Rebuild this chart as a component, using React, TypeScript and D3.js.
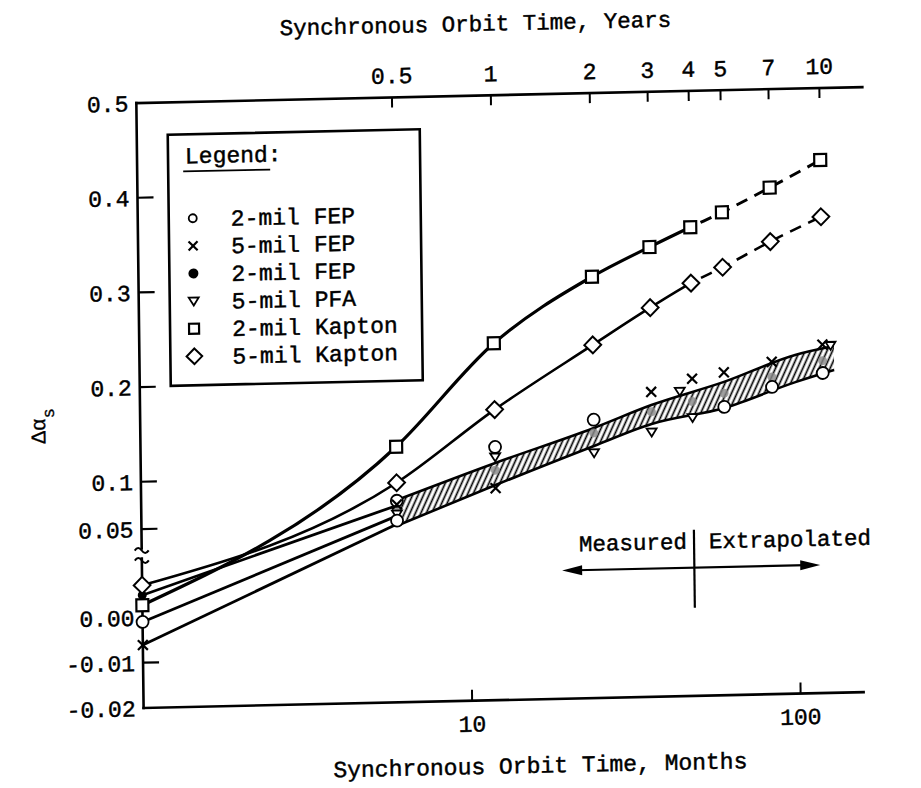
import React from 'react';
import * as d3 from 'd3';

const W = 921;
const H = 788;
const FONT = "'Liberation Mono', 'Courier New', monospace";

// ---------- axis ticks ----------
const monthTicks = [10, 100];
const monthTickLabels = ['10', '100'];
const yearTicks = [0.5, 1, 2, 3, 4, 5, 7, 10];
const yearTickLabels = ['0.5', '1', '2', '3', '4', '5', '7', '10'];
const yLabelValues = [0.5, 0.4, 0.3, 0.2, 0.1, 0.05, 0.0, -0.01, -0.02];
const yLabelTexts = ['0.5', '0.4', '0.3', '0.2', '0.1', '0.05', '0.00', '-0.01', '-0.02'];
const yTickMarks = [0.4, 0.3, 0.2, 0.1, 0.05, -0.01];

// ---------- Kapton series ----------
const kaptonMonths = [1, 6, 12, 24, 36, 48, 60, 84, 120];
const kapton2milValues = [0.0027, 0.131, 0.238, 0.306, 0.336, 0.356, 0.371, 0.396, 0.424];
const kapton5milValues = [0.0071, 0.093, 0.168, 0.234, 0.272, 0.297, 0.313, 0.339, 0.364];
const measuredUntilMonth = 48;

// ---------- FEP / PFA lines (1 to 6 months) ----------
const fepLineMonths = [1, 6];
const fep2milFilledLine = [0.0049, 0.069];
const fep2milOpenLine = [-0.001, 0.058];
const fep5milLine = [-0.0061, 0.049];

// ---------- hatched band ----------
const bandMonths = [6, 12, 24, 36, 60, 99, 130];
const bandUpper = [0.0747, 0.1116, 0.1463, 0.1692, 0.1919, 0.2187, 0.2272];
const bandLower = [0.0462, 0.0883, 0.1273, 0.1491, 0.1644, 0.19, 0.2019];

// ---------- scattered markers ----------
const fep2milOpenMonths = [1, 6, 6, 12, 24, 60, 84, 120];
const fep2milOpenValues = [-0.001, 0.074, 0.053, 0.1285, 0.155, 0.1655, 0.1855, 0.199];
const fep5milMonths = [1, 6, 12, 36, 48, 60, 84, 120];
const fep5milValues = [-0.0061, 0.07, 0.085, 0.183, 0.196, 0.202, 0.212, 0.229];
const fep2milFilledMonths = [1, 6, 12, 24, 36, 48, 60, 84, 120];
const fep2milFilledValues = [0.0049, 0.064, 0.104, 0.141, 0.162, 0.172, 0.18, 0.196, 0.212];
const pfa5milMonths = [6, 12, 24, 36, 44, 48, 127];
const pfa5milValues = [0.06, 0.118, 0.12, 0.1406, 0.183, 0.155, 0.228];

// ---------- legend ----------
const legendLabels = ['2-mil FEP', '5-mil FEP', '2-mil FEP', '5-mil PFA', '2-mil Kapton', '5-mil Kapton'];
const legendMarkers = ['circle', 'x', 'dot', 'tri', 'square', 'diamond'];

// annotation
const arrowFromMonth = 19;
const arrowToMonth = 116;
const arrowValue = 0.0083;

type MarkerType = 'circle' | 'x' | 'dot' | 'tri' | 'square' | 'diamond' | 'greydot';

function Marker({ type, cx, cy, s }: { type: MarkerType; cx: number; cy: number; s: number }) {
  switch (type) {
    case 'circle':
      return <circle cx={cx} cy={cy} r={s * 0.5} fill="#fff" stroke="#000" strokeWidth={1.8} />;
    case 'dot':
      return <circle cx={cx} cy={cy} r={s * 0.5} fill="#000" />;
    case 'greydot':
      return <circle cx={cx} cy={cy} r={s * 0.5} fill="#888" opacity={0.8} />;
    case 'x': {
      const h = s * 0.45;
      return (
        <g stroke="#000" strokeWidth={2.2}>
          <line x1={cx - h} y1={cy - h} x2={cx + h} y2={cy + h} />
          <line x1={cx - h} y1={cy + h} x2={cx + h} y2={cy - h} />
        </g>
      );
    }
    case 'tri': {
      const h = s * 0.5;
      return (
        <path
          d={`M${cx - h},${cy - h * 0.7} L${cx + h},${cy - h * 0.7} L${cx},${cy + h * 0.9} Z`}
          fill="#fff"
          stroke="#000"
          strokeWidth={1.8}
        />
      );
    }
    case 'square': {
      const h = s * 0.5;
      return <rect x={cx - h} y={cy - h} width={s} height={s} fill="#fff" stroke="#000" strokeWidth={2.2} />;
    }
    case 'diamond': {
      const h = s * 0.6;
      return (
        <path
          d={`M${cx},${cy - h} L${cx + h},${cy} L${cx},${cy + h} L${cx - h},${cy} Z`}
          fill="#fff"
          stroke="#000"
          strokeWidth={2}
        />
      );
    }
  }
  return null;
}

export default function App() {
  const x = d3.scaleLog().domain([1, 100]).range([140, 797]);
  const y = d3
    .scaleLinear()
    .domain([-0.02, 0.015, 0.05, 0.5])
    .range([700.5, 542, 521.6, 95.6]);

  const xLeft = x(1);
  const yTop = y(0.5);
  const yBottom = y(-0.02);
  const xRightTop = 866;
  const xRightBottom = 860;
  const breakTop = 541;
  const breakBottom = 551;

  const line = d3
    .line<[number, number]>()
    .x((d) => x(d[0]))
    .y((d) => y(d[1]))
    .curve(d3.curveMonotoneX);
  const straight = d3
    .line<[number, number]>()
    .x((d) => x(d[0]))
    .y((d) => y(d[1]));

  const k2 = line(kaptonMonths.map((m, i) => [m, kapton2milValues[i]] as [number, number])) || '';
  const k5 = line(kaptonMonths.map((m, i) => [m, kapton5milValues[i]] as [number, number])) || '';

  const fepLines = [fep2milFilledLine, fep2milOpenLine, fep5milLine].map(
    (vals) => straight(fepLineMonths.map((m, i) => [m, vals[i]] as [number, number])) || ''
  );

  const area = d3
    .area<number>()
    .x((_, i) => x(bandMonths[i]))
    .y0((_, i) => y(bandLower[i]))
    .y1((_, i) => y(bandUpper[i]))
    .curve(d3.curveMonotoneX);
  const bandPath = area(bandMonths) || '';
  const bandUpperPath = line(bandMonths.map((m, i) => [m, bandUpper[i]] as [number, number])) || '';
  const bandLowerPath = line(bandMonths.map((m, i) => [m, bandLower[i]] as [number, number])) || '';

  const xDiv = x(measuredUntilMonth);
  const arrowY = y(arrowValue);
  const ax0 = x(arrowFromMonth);
  const ax1 = x(arrowToMonth);

  const legendX0 = 171;
  const legendY0 = 128;
  const legendX1 = 423;
  const legendY1 = 379;
  const rowY0 = 212;
  const rowStep = 27.6;

  const tilde = (cx: number, cy: number) =>
    `M${cx - 7},${cy + 1} q3.5,-5 7,0 t7,0`;

  const txt = { fill: '#000', stroke: '#000', strokeWidth: 0.45 };

  return (
    <svg
      width={W}
      height={H}
      viewBox={`0 0 ${W} ${H}`}
      style={{ position: 'absolute', left: 0, top: 0, background: '#fff' }}
      fontFamily={FONT}
    >
      <defs>
        <pattern
          id="hatch"
          patternUnits="userSpaceOnUse"
          width={5}
          height={10}
          patternTransform="rotate(25)"
        >
          <rect width={5} height={10} fill="#fff" />
          <line x1={1.5} y1={0} x2={1.5} y2={10} stroke="#000" strokeWidth={1.7} />
        </pattern>
        <clipPath id="clipMeasured">
          <rect x={0} y={0} width={xDiv} height={H} />
        </clipPath>
        <clipPath id="clipExtrap">
          <rect x={xDiv} y={0} width={W} height={H} />
        </clipPath>
      </defs>
      <rect width={W} height={H} fill="#fff" />
      <g transform="translate(480,400) matrix(1,-0.022,0.012,1,0,0) translate(-480,-400)">
        {/* titles */}
        <text x={480} y={31} fontSize={22.5} textAnchor="middle" {...txt}>
          Synchronous Orbit Time, Years
        </text>
        <text x={536} y={774} fontSize={23} textAnchor="middle" {...txt}>
          Synchronous Orbit Time, Months
        </text>

        {/* y label */}
        <text transform={`translate(45,${y(0.1) - 58}) rotate(-90)`} fontSize={21} textAnchor="middle" {...txt} strokeWidth={0.3}>
          Δα
          <tspan fontSize={17} dy={9}>
            s
          </tspan>
        </text>

        {/* axes */}
        <g stroke="#000" strokeWidth={2.6} fill="none" strokeLinecap="square">
          <line x1={xLeft} y1={yTop} x2={xRightTop} y2={yTop} />
          <line x1={xLeft} y1={yBottom} x2={xRightBottom} y2={yBottom} />
          <line x1={xLeft} y1={yTop} x2={xLeft} y2={breakTop} />
          <line x1={xLeft} y1={breakBottom} x2={xLeft} y2={yBottom} />
        </g>
        <g stroke="#000" strokeWidth={2} fill="none">
          <path d={tilde(xLeft, breakTop + 1)} />
          <path d={tilde(xLeft, breakBottom + 1)} />
        </g>

        {/* top ticks */}
        {yearTicks.map((yr, i) => (
          <g key={'yt' + i}>
            <line x1={x(yr * 12)} y1={yTop} x2={x(yr * 12)} y2={yTop + 10} stroke="#000" strokeWidth={2} />
            <text x={x(yr * 12)} y={yTop - 14} fontSize={23} textAnchor="middle" {...txt}>
              {yearTickLabels[i]}
            </text>
          </g>
        ))}

        {/* bottom ticks */}
        {monthTicks.map((m, i) => (
          <g key={'mt' + i}>
            <line x1={x(m)} y1={yBottom} x2={x(m)} y2={yBottom - 11} stroke="#000" strokeWidth={2} />
            <text x={x(m)} y={yBottom + 31} fontSize={23} textAnchor="middle" {...txt}>
              {monthTickLabels[i]}
            </text>
          </g>
        ))}

        {/* left ticks */}
        {yTickMarks.map((v, i) => (
          <line key={'ytm' + i} x1={xLeft} y1={y(v)} x2={xLeft + 16} y2={y(v)} stroke="#000" strokeWidth={2.2} />
        ))}
        {yLabelValues.map((v, i) => (
          <text key={'yl' + i} x={xLeft - 8} y={y(v)} dy="0.36em" fontSize={23} textAnchor="end" {...txt}>
            {yLabelTexts[i]}
          </text>
        ))}

        {/* legend */}
        <rect
          x={legendX0}
          y={legendY0}
          width={legendX1 - legendX0}
          height={legendY1 - legendY0}
          fill="#fff"
          stroke="#000"
          strokeWidth={2.6}
        />
        <text x={188} y={157} fontSize={23} {...txt}>
          Legend:
        </text>
        <line x1={186} y1={165} x2={273} y2={165} stroke="#000" strokeWidth={1.8} />
        {legendLabels.map((lab, i) => {
          const ry = rowY0 + i * rowStep;
          const t = legendMarkers[i] as MarkerType;
          const s = t === 'circle' ? 8 : t === 'dot' ? 10 : t === 'diamond' ? 13 : 10;
          return (
            <g key={'lg' + i}>
              <Marker type={t} cx={195} cy={ry} s={s} />
              <text x={233} y={ry} dy="0.36em" fontSize={23} {...txt}>
                {lab}
              </text>
            </g>
          );
        })}

        {/* hatched band */}
        <path d={bandPath} fill="url(#hatch)" stroke="none" />
        <path d={bandUpperPath} fill="none" stroke="#000" strokeWidth={2.6} />
        <path d={bandLowerPath} fill="none" stroke="#000" strokeWidth={2.6} />

        {/* FEP lines */}
        {fepLines.map((d, i) => (
          <path key={'fl' + i} d={d} fill="none" stroke="#000" strokeWidth={2.8} />
        ))}

        {/* Kapton curves */}
        <path d={k2} fill="none" stroke="#000" strokeWidth={3.2} clipPath="url(#clipMeasured)" />
        <path d={k2} fill="none" stroke="#000" strokeWidth={3} strokeDasharray="12 8" clipPath="url(#clipExtrap)" />
        <path d={k5} fill="none" stroke="#000" strokeWidth={2.6} clipPath="url(#clipMeasured)" />
        <path d={k5} fill="none" stroke="#000" strokeWidth={2.6} strokeDasharray="12 8" clipPath="url(#clipExtrap)" />

        {/* markers */}
        {fep2milFilledMonths.map((m, i) => (
          <Marker key={'fd' + i} type={i === 0 ? 'dot' : 'greydot'} cx={x(m)} cy={y(fep2milFilledValues[i])} s={9} />
        ))}
        {pfa5milMonths.map((m, i) => (
          <Marker key={'pt' + i} type="tri" cx={x(m)} cy={y(pfa5milValues[i])} s={10} />
        ))}
        {fep2milOpenMonths.map((m, i) => (
          <Marker key={'fo' + i} type="circle" cx={x(m)} cy={y(fep2milOpenValues[i])} s={12} />
        ))}
        {fep5milMonths.map((m, i) => (
          <Marker key={'fx' + i} type="x" cx={x(m)} cy={y(fep5milValues[i])} s={11} />
        ))}
        {kaptonMonths.map((m, i) => (
          <Marker key={'k5' + i} type="diamond" cx={x(m)} cy={y(kapton5milValues[i])} s={14} />
        ))}
        {kaptonMonths.map((m, i) => (
          <Marker key={'k2' + i} type="square" cx={x(m)} cy={y(kapton2milValues[i])} s={12} />
        ))}

        {/* measured / extrapolated */}
        <line x1={xDiv} y1={arrowY - 38} x2={xDiv} y2={arrowY + 40} stroke="#000" strokeWidth={2.2} />
        <line x1={ax0 + 14} y1={arrowY} x2={ax1 - 14} y2={arrowY} stroke="#000" strokeWidth={2.2} />
        <path d={`M${ax0},${arrowY} L${ax0 + 20},${arrowY - 5} L${ax0 + 20},${arrowY + 5} Z`} fill="#000" />
        <path d={`M${ax1},${arrowY} L${ax1 - 20},${arrowY - 5} L${ax1 - 20},${arrowY + 5} Z`} fill="#000" />
        <text x={xDiv - 7} y={arrowY - 19} fontSize={22.5} textAnchor="end" {...txt}>
          Measured
        </text>
        <text x={xDiv + 15} y={arrowY - 19} fontSize={22.5} {...txt}>
          Extrapolated
        </text>
      </g>
    </svg>
  );
}
